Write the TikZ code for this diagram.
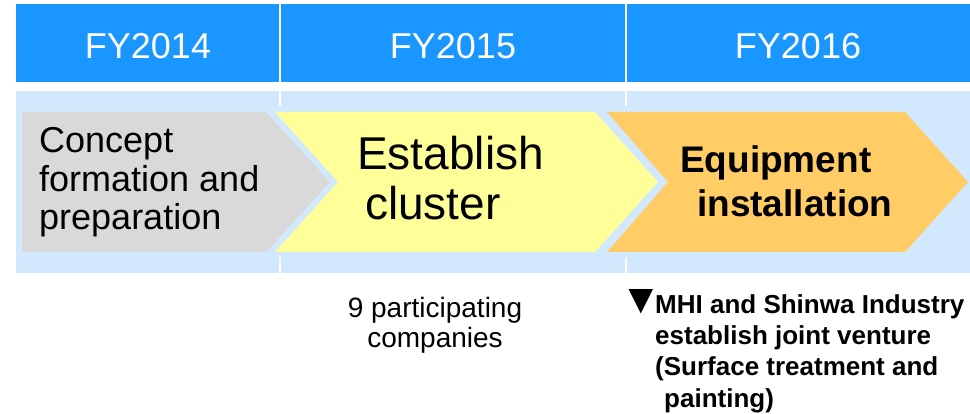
\documentclass[tikz,border=0pt]{standalone}
\usepackage{fontspec}
\setmainfont{Liberation Sans}
\definecolor{headblue}{RGB}{25,150,255}
\definecolor{bandblue}{RGB}{210,232,252}
\definecolor{chevgray}{RGB}{217,217,217}
\definecolor{chevyellow}{RGB}{255,255,153}
\definecolor{chevorange}{RGB}{255,204,102}
\newcommand{\bigtri}{\makebox[27pt][l]{\hspace*{-8pt}\fontsize{42}{31}\selectfont▼}}
\tikzset{
  yeartext/.style={text=white,inner sep=0pt,anchor=base,font=\fontsize{36}{40}\selectfont},
  phasetext/.style={inner sep=0pt,anchor=base west,align=left},
  notetext/.style={inner sep=0pt,align=left},
  divider/.style={white,line width=2.5pt},
}
\begin{document}
\begin{tikzpicture}[x=1pt,y=-1pt]
\useasboundingbox (0,0) rectangle (970,414);
\fill[white] (0,0) rectangle (970,414);
% header band
\fill[headblue] (16,4) rectangle (970,82);
\draw[divider] (280,4) -- (280,82);
\draw[divider] (626,4) -- (626,82);
\node[yeartext] (y14) at (148,59) {FY2014};
\node[yeartext] (y15) at (453,59) {FY2015};
\node[yeartext] (y16) at (798,59) {FY2016};
% light band
\fill[bandblue] (16,91) rectangle (970,273);
\draw[divider,line width=2pt] (280,91) -- (280,106);
\draw[divider,line width=2pt] (280,257) -- (280,273);
\draw[divider,line width=2pt] (626,91) -- (626,106);
\draw[divider,line width=2pt] (626,257) -- (626,273);
% chevrons
\fill[chevgray] (22,112) -- (266,112) -- (330,182) -- (266,252) -- (22,252) -- cycle;
\fill[chevyellow] (275,112) -- (595,112) -- (658,182) -- (595,252) -- (275,252) -- (338,182) -- cycle;
\fill[chevorange] (607,112) -- (905,112) -- (968,182) -- (905,252) -- (607,252) -- (668,182) -- cycle;
% phase texts (anchor = baseline of last line)
\node[phasetext,font=\fontsize{36}{38.5}\selectfont] (concept) at (39,230)
  {Concept\\formation and\\preparation};
\node[phasetext,font=\fontsize{46}{50}\selectfont] (cluster) at (357,220)
  {Establish\\\hspace*{8pt}cluster};
\node[phasetext,font=\fontsize{37}{44}\selectfont\bfseries] (equip) at (680,217)
  {Equipment\\\hspace*{17pt}installation};
% notes
\node[notetext,align=center,anchor=base,font=\fontsize{28}{31}\selectfont] (companies) at (435,348)
  {9 participating\\companies};
\node[notetext,anchor=base west,font=\fontsize{26}{31.3}\selectfont\bfseries] (jv) at (628,407)
  {\bigtri MHI and Shinwa Industry\\\hspace*{27pt}establish joint venture\\\hspace*{27pt}(Surface treatment and\\\hspace*{36pt}painting)};
\end{tikzpicture}
\end{document}
